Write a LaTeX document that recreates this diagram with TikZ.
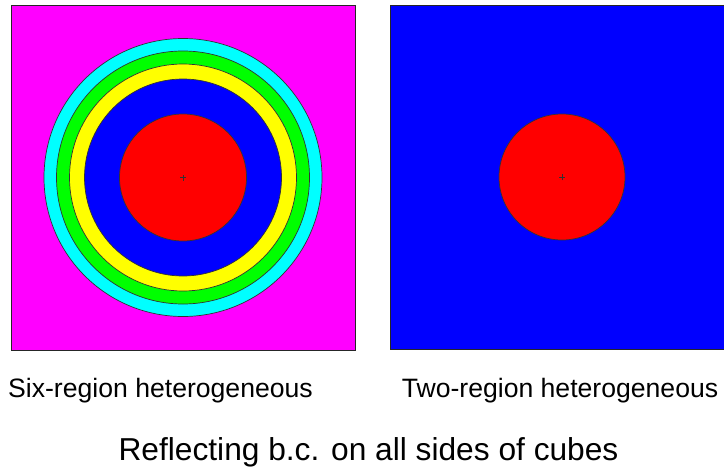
\documentclass[tikz,border=0pt]{standalone}
\usepackage{fontspec}
\setmainfont{Liberation Sans}
\usetikzlibrary{positioning}

\definecolor{zoneMagenta}{RGB}{255,0,255}
\definecolor{zoneCyan}{RGB}{0,255,255}
\definecolor{zoneGreen}{RGB}{0,255,0}
\definecolor{zoneYellow}{RGB}{255,255,0}
\definecolor{zoneBlue}{RGB}{0,0,255}
\definecolor{zoneRed}{RGB}{255,0,0}

\begin{document}
\begin{tikzpicture}[
  x=1pt, y=-1pt,
  cube/.style={draw=black!85, line width=0.8pt, inner sep=0pt, outer sep=0pt},
  zone/.style={circle, draw=black!80, line width=0.7pt, inner sep=0pt, outer sep=0pt},
  pivot/.style={draw=black!80, line width=0.6pt},
  legende/.style={font=\fontsize{26.6}{30}\selectfont, inner sep=0pt, anchor=base},
  titre/.style={font=\fontsize{31.7}{36}\selectfont, inner sep=0pt, anchor=base}
]
\useasboundingbox (0,0) rectangle (724,469);

% six-region cube
\node[cube, fill=zoneMagenta, minimum width=344pt, minimum height=345pt] (cubeSix) at (183,177.5) {};
\node[zone, fill=zoneCyan, minimum size=278pt] (cyanSix) at (cubeSix.center) {};
\node[zone, fill=zoneGreen, minimum size=253pt] (greenSix) at (cubeSix.center) {};
\node[zone, fill=zoneYellow, minimum size=227pt] (yellowSix) at (cubeSix.center) {};
\node[zone, fill=zoneBlue, minimum size=197pt] (blueSix) at (cubeSix.center) {};
\node[zone, fill=zoneRed, minimum size=127pt] (redSix) at (cubeSix.center) {};
\draw[pivot] ([xshift=-3pt]redSix.center) -- ([xshift=3pt]redSix.center);
\draw[pivot] ([yshift=-3pt]redSix.center) -- ([yshift=3pt]redSix.center);

% two-region cube
\node[cube, fill=zoneBlue, minimum width=344pt, minimum height=344pt] (cubeTwo) at (562,177) {};
\node[zone, fill=zoneRed, minimum size=126pt] (redTwo) at (cubeTwo.center) {};
\draw[pivot] ([xshift=-3pt]redTwo.center) -- ([xshift=3pt]redTwo.center);
\draw[pivot] ([yshift=-3pt]redTwo.center) -- ([yshift=3pt]redTwo.center);

\node[legende] (lblSix) at (160.5,397) {Six-region heterogeneous};
\node[legende] (lblTwo) at (560,397) {Two-region heterogeneous};
\node[titre] (titreBc) at (368.5,460) {Reflecting b.c. on all sides of cubes};
\end{tikzpicture}
\end{document}
